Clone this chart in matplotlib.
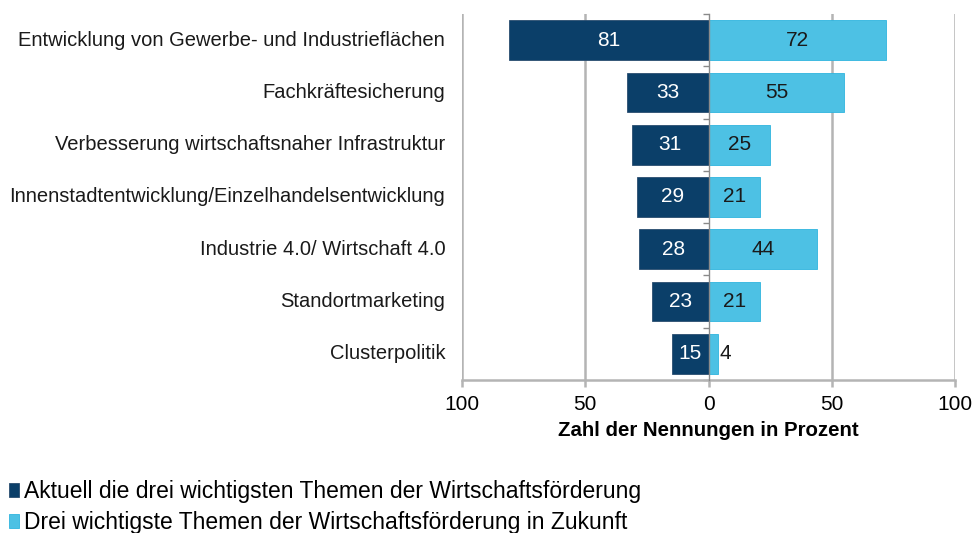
import matplotlib.pyplot as plt
import numpy as np

plt.rcParams['font.family'] = ['Liberation Sans', 'DejaVu Sans']

# Daten
themen = [
    "Entwicklung von Gewerbe- und Industrieflächen",
    "Fachkräftesicherung",
    "Verbesserung wirtschaftsnaher Infrastruktur",
    "Innenstadtentwicklung/Einzelhandelsentwicklung",
    "Industrie 4.0/ Wirtschaft 4.0",
    "Standortmarketing",
    "Clusterpolitik",
]
aktuell = [81, 33, 31, 29, 28, 23, 15]
zukunft = [72, 55, 25, 21, 44, 21, 4]
xticks = [-100, -50, 0, 50, 100]
xtick_labels = ["100", "50", "0", "50", "100"]

dunkel = "#0b3f69"
hell = "#4dc1e4"
grau = "#b4b4b4"

fig = plt.figure(figsize=(9.73, 5.33), dpi=100)
ax = fig.add_axes([462 / 973, 1 - 380 / 533, (955 - 462) / 973, (380 - 14) / 533])

y = np.arange(len(themen))
h = 0.76
b1 = ax.barh(y, [-v for v in aktuell], height=h, color=dunkel, edgecolor="#2a4d70",
             linewidth=0.6, label="Aktuell die drei wichtigsten Themen der Wirtschaftsförderung", zorder=3)
b2 = ax.barh(y, zukunft, height=h, color=hell, edgecolor="#2fb4de",
             linewidth=0.6, label="Drei wichtigste Themen der Wirtschaftsförderung in Zukunft", zorder=3)

for i, v in enumerate(aktuell):
    ax.text(-v / 2, i, str(v), ha="center", va="center", color="white", fontsize=15, zorder=4)
for i, v in enumerate(zukunft):
    if v >= 10:
        ax.text(v / 2, i, str(v), ha="center", va="center", color="#1a1a1a", fontsize=15, zorder=4)
    else:
        ax.text(v + 0.4, i, str(v), ha="left", va="center", color="#1a1a1a", fontsize=15, zorder=4)

ax.set_xlim(-100, 100)
ax.set_ylim(len(themen) - 0.5, -0.5)

# Gitter
for xv in [-100, -50, 50, 100]:
    ax.axvline(xv, color=grau, linewidth=1.8, zorder=1)

for s in ["top", "right"]:
    ax.spines[s].set_visible(False)
ax.spines["bottom"].set_color(grau)
ax.spines["bottom"].set_linewidth(1.8)
ax.spines["left"].set_position(("data", 0))
ax.spines["left"].set_color("#8a8a8a")
ax.spines["left"].set_linewidth(1.0)
ax.spines["left"].set_zorder(5)

ax.set_xticks(xticks)
ax.set_xticklabels(xtick_labels, fontsize=15)
ax.tick_params(axis="x", length=5, width=1.8, color=grau, pad=6)

ax.set_yticks(np.arange(len(themen) + 1) - 0.5)
ax.set_yticklabels([])
ax.tick_params(axis="y", length=4, width=1.0, color="#8a8a8a")

for i, t in enumerate(themen):
    ax.text(-0.034, i, t, transform=ax.get_yaxis_transform(), ha="right", va="center",
            fontsize=14.5, color="#1a1a1a")

ax.set_xlabel("Zahl der Nennungen in Prozent", fontsize=14.7, fontweight="bold", labelpad=5)

fig.legend(handles=[b1, b2], loc="upper left", bbox_to_anchor=(0.009, 1 - 480 / 533),
           frameon=False, fontsize=16.5, handlelength=0.45, handleheight=0.6,
           handletextpad=0.2, labelspacing=0.35, borderaxespad=0.0, borderpad=0.0)

fig.savefig("out.png", dpi=100)
